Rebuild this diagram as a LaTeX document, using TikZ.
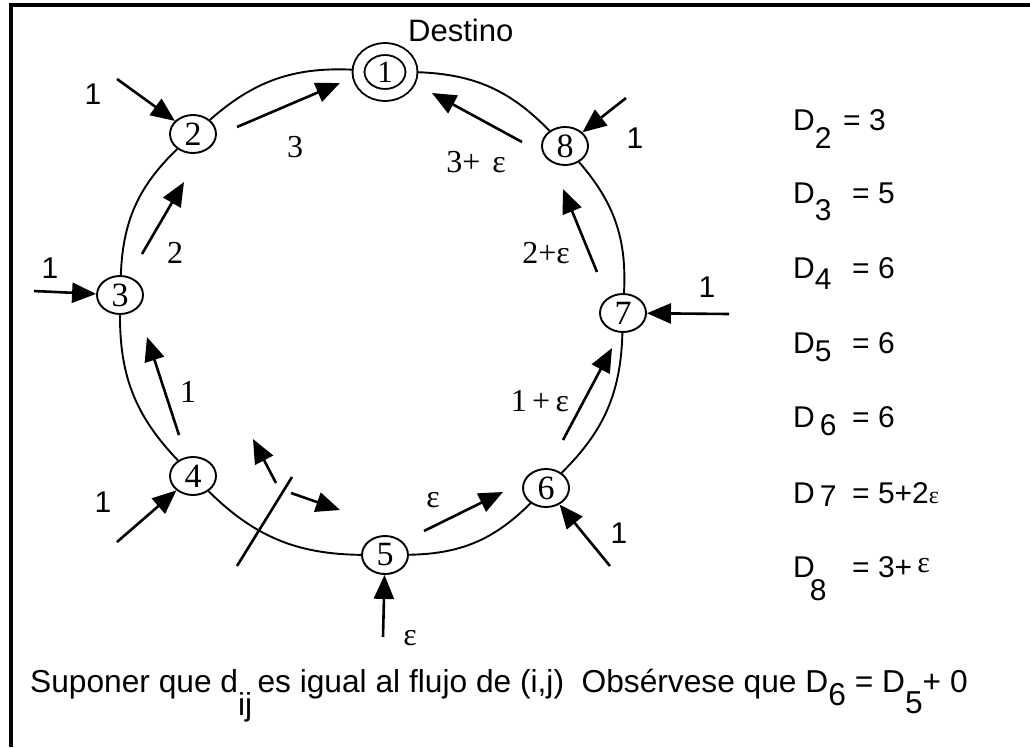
\documentclass[tikz,border=0pt]{standalone}
\usepackage{fontspec}
\setmainfont{Liberation Serif}
\setsansfont{Liberation Sans}
\usetikzlibrary{shapes.geometric, arrows.meta}

\begin{document}
\begin{tikzpicture}[
  x=1pt, y=-1pt,
  router/.style={ellipse, draw, line width=1.9pt, minimum width=46pt,
                 minimum height=38pt, inner sep=0pt,
                 font=\fontsize{34}{34}\selectfont},
  sink/.style={router, double, double distance=10pt, minimum width=53pt,
               minimum height=46pt, outer sep=6pt,
               font=\fontsize{31}{31}\selectfont},
  ring/.style={line width=1.9pt},
  arrow/.style={-{Triangle[length=24pt, width=20pt]}, line width=2.6pt},
  cut/.style={line width=2.6pt},
  flowlbl/.style={font=\fontsize{32}{32}\selectfont, inner sep=0pt},
  inlbl/.style={font=\sffamily\fontsize{30}{30}\selectfont, inner sep=0pt},
  eqn/.style={anchor=base west, inner sep=0pt,
              font=\sffamily\fontsize{30}{30}\selectfont}
]
\useasboundingbox (0,0) rectangle (1030,747);

% frame
\draw[line width=4pt] (11,747) -- (11,5) -- (1030,5);

% ring of nodes
\node[sink] (n1) at (385,72) {1};
\node[router] (n2) at (193,134) {2};
\node[router] (n3) at (120,295) {3};
\node[router] (n4) at (193,476) {4};
\node[router] (n5) at (385,555) {5};
\node[router] (n6) at (546,488) {6};
\node[router] (n7) at (623,313) {7};
\node[router] (n8) at (565,146) {8};
\node[inlbl, anchor=base west, font=\sffamily\fontsize{31}{31}\selectfont]
  (dest) at (408,41) {Destino};

\foreach \a/\b in {1/2,2/3,3/4,4/5,5/6,6/7,7/8,8/1}
  \draw[ring] (n\a) to[bend right=22] (n\b);

% incoming traffic
\coordinate (s2) at (117,79);
\coordinate (s3) at (34,291);
\coordinate (s4) at (117,542);
\coordinate (s5) at (383,637);
\coordinate (s6) at (610,566);
\coordinate (s7) at (729,314);
\coordinate (s8) at (626,98);
\foreach \k in {2,...,8}
  \draw[arrow] (s\k) -- (n\k);

\node[inlbl] (in2) at (93,94) {1};
\node[inlbl] (in3) at (50,268) {1};
\node[inlbl] (in4) at (103,502) {1};
\node[flowlbl] (in5) at (410,638) {ε};
\node[inlbl] (in6) at (619,533) {1};
\node[inlbl] (in7) at (707,287) {1};
\node[inlbl] (in8) at (635,138) {1};

% flows along the ring
\coordinate (f32a) at (142,254); \coordinate (f32b) at (184,182);
\coordinate (f21a) at (237,127); \coordinate (f21b) at (340,83);
\coordinate (f81a) at (522,142); \coordinate (f81b) at (432,93);
\coordinate (f78a) at (597,272); \coordinate (f78b) at (563,189);
\coordinate (f67a) at (563,440); \coordinate (f67b) at (612,348);
\coordinate (f56a) at (424,531); \coordinate (f56b) at (503,492);
\coordinate (f43a) at (179,435); \coordinate (f43b) at (147,337);
\foreach \f in {32,21,81,78,67,56,43}
  \draw[arrow] (f\f a) -- (f\f b);

\node[flowlbl] (l32) at (175,253) {2};
\node[flowlbl] (l21) at (295,147) {3};
\node[flowlbl] (l81) at (476,162) {3+\hspace{12pt}ε};
\node[flowlbl] (l78) at (546,253) {2+ε};
\node[flowlbl] (l67) at (540,401) {1\,+\,ε};
\node[flowlbl] (l56) at (433,500) {ε};
\node[flowlbl] (l43) at (188,392) {1};

% cut between 4 and 5
\coordinate (c1) at (237,566); \coordinate (c2) at (292,477);
\draw[cut] (c1) -- (c2);
\coordinate (cl1) at (276,483); \coordinate (cl2) at (253,439);
\coordinate (cr1) at (291,493); \coordinate (cr2) at (340,510);
\draw[arrow] (cl1) -- (cl2);
\draw[arrow] (cr1) -- (cr2);

% distances
\node[eqn] (d2) at (793,130) {D\raisebox{-18pt}{2}};
\node[eqn] (v2) at (843,130) {= 3};
\node[eqn] (d3) at (793,203) {D\raisebox{-17pt}{3}};
\node[eqn] (v3) at (852,203) {= 5};
\node[eqn] (d4) at (793,278) {D\raisebox{-11pt}{4}};
\node[eqn] (v4) at (852,278) {= 6};
\node[eqn] (d5) at (793,353) {D\raisebox{-8pt}{5}};
\node[eqn] (v5) at (852,353) {= 6};
\node[eqn] (d6) at (793,427) {D\,\raisebox{-8pt}{6}};
\node[eqn] (v6) at (852,427) {= 6};
\node[eqn] (d7) at (793,503) {D\,\raisebox{-3pt}{7}};
\node[eqn] (v7) at (852,503) {= 5+2{\rmfamily\fontsize{24}{24}\selectfont ε}};
\node[eqn] (d8) at (793,577) {D\kern-5pt\raisebox{-23pt}{8}};
\node[eqn] (v8) at (852,577) {= 3+\,\raisebox{5pt}{\rmfamily ε}};

\node[eqn, font=\sffamily\fontsize{31.7}{32}\selectfont] (note) at (30,692)
  {Suponer que d\raisebox{-23pt}{ij}\,es igual al flujo de (i,j)\ \ Obsérvese que D\raisebox{-13pt}{6} = D\raisebox{-21pt}{5}+ 0};

\end{tikzpicture}
\end{document}
